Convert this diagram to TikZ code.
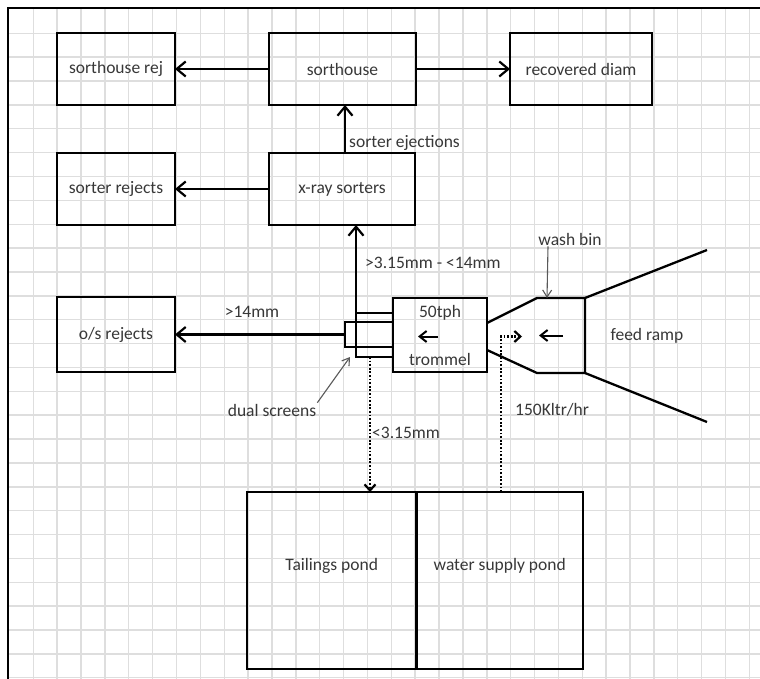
\documentclass[tikz,border=0pt]{standalone}
\usepackage{fontspec}
\setmainfont{Carlito}
\usetikzlibrary{arrows.meta,positioning,calc}
\definecolor{gridgray}{gray}{0.87}
\definecolor{inkgray}{gray}{0.22}
\definecolor{pengray}{gray}{0.35}

\begin{document}
\begin{tikzpicture}[x=1pt, y=-1pt,
  unit/.style={draw=black, line width=2.3pt, outer sep=0pt, inner sep=2pt, align=center,
    text=inkgray, font=\fontsize{17.5}{20}\selectfont,
    minimum width=118pt, minimum height=72pt},
  screen/.style={draw=black, line width=2pt, outer sep=0pt, inner sep=0pt},
  lbl/.style={text=inkgray, font=\fontsize{17.5}{20}\selectfont, inner sep=1pt},
  arr/.style={-{Straight Barb[length=9pt,width=15pt]}, line width=2.2pt},
  inarr/.style={-{Straight Barb[length=7pt,width=11pt]}, line width=2pt},
  dotarr/.style={-{Straight Barb[length=6pt,width=11pt]}, line width=2.2pt,
    dash pattern=on 1.8pt off 1.8pt},
  pointer/.style={-{Straight Barb[length=7pt,width=9pt]}, line width=1.1pt, draw=pengray},
  node distance=94pt
]
\useasboundingbox (0,0) rectangle (760,679);
\fill[white] (0,0) rectangle (760,679);

% squared paper and frame
\foreach \k in {1,...,31}
  \draw[gridgray, line width=1.4pt] ({9.4+23.87*\k},8) -- ({9.4+23.87*\k},679);
\foreach \k in {1,...,28}
  \draw[gridgray, line width=1.4pt] (8,{9.4+23.87*\k}) -- (760,{9.4+23.87*\k});
\draw[line width=2.2pt] (8,679) -- (8,8) -- (760,8);

% sorting boxes
\node[unit] (shrej) at (116,69) {sorthouse rej};
\node[unit, right=of shrej, minimum width=147pt] (shouse) {sorthouse};
\node[unit, right=of shouse, minimum width=142pt] (recdiam) {recovered diam};
\node[unit, below=48pt of shrej] (srej) {sorter rejects};
\node[unit, right=of srej, minimum width=146pt] (xray) {x-ray sorters};
\node[unit, below=72pt of srej, minimum height=75pt] (osrej) {o/s rejects};

% trommel and dual screens
\node[unit, minimum width=94pt, minimum height=74pt] (trommel) at (440,335) {50tph\\[28pt]trommel};
\node[screen, minimum width=48pt, minimum height=25pt] (inscr) at (369,334.5) {};
\node[screen, minimum width=37pt, minimum height=44pt] (outscr) at (374.5,335) {};

% ponds
\node[unit, minimum width=169.5pt, minimum height=177pt,
  label={[lbl, yshift=15pt]center:Tailings pond}] (tail) at (331.75,580.5) {};
\node[unit, right=0pt of tail, minimum width=166.5pt, minimum height=177pt,
  label={[lbl, yshift=15pt]center:water supply pond}] (water) {};

% wash bin and feed ramp
\coordinate (cone1) at ([yshift=12pt]trommel.east);
\coordinate (cone2) at ([yshift=-15pt]trommel.east);
\coordinate (bin1) at (537,298);
\coordinate (bin2) at (585,298);
\coordinate (bin3) at (585,373);
\coordinate (bin4) at (537,373);
\coordinate (binmid) at ($(bin1)!0.5!(bin3)$);
\coordinate (spray) at (522,336.5);
\draw[line width=2.3pt] (cone1) -- (bin1) -- (bin2) -- (bin3) -- (bin4) -- (cone2);
\draw[line width=2.3pt] (bin2) -- (707,250);
\draw[line width=2.3pt] (bin3) -- (707,422);

% flows
\draw[arr] (shouse) -- (shrej);
\draw[arr] (shouse) -- (recdiam);
\draw[arr] (xray) -- (srej);
\draw[arr] ([xshift=3pt]xray.north) -- ([xshift=3pt]xray.north |- shouse.south);
\draw[arr] (outscr.north west) -- (outscr.north west |- xray.south);
\draw[arr] (inscr) -- (osrej);
\draw[inarr] ([xshift=-2pt,yshift=-1.5pt]trommel.center) -- ++(-20,0);
\draw[inarr] ([xshift=2pt]binmid) -- ++(-24,0);
\draw[dotarr] ([xshift=-4.5pt]outscr.south) -- ([xshift=-4.5pt]outscr.south |- tail.north);
\draw[dotarr] ([xshift=1pt]water.north) |- (spray);

% labels
\node[lbl, anchor=west] (ejlbl) at (348,143) {sorter ejections};
\node[lbl] (oslbl) at (252,312) {>14mm};
\node[lbl, anchor=west] (midlbl) at (364,263) {>3.15mm - <14mm};
\node[lbl, anchor=west] (fineslbl) at (371,433) {<3.15mm};
\node[lbl, anchor=west] (flowlbl) at (514,410) {150Kltr/hr};
\node[lbl] (duallbl) at (272,410) {dual screens};
\node[lbl] (ramplbl) at (647,336) {feed ramp};
\node[lbl] (washlbl) at (570,239) {wash bin};
\draw[pointer] ([xshift=-22pt]washlbl.south) -- ([xshift=10pt]bin1);
\draw[pointer] (duallbl.north east) -- ([xshift=-6pt]outscr.south west);
\end{tikzpicture}
\end{document}
